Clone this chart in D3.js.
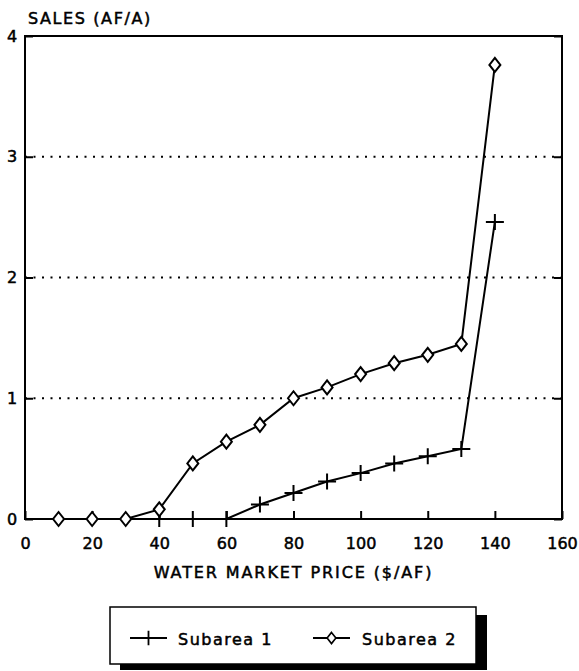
<!DOCTYPE html>
<html><head><meta charset="utf-8">
<script src="https://cdn.jsdelivr.net/npm/d3@7"></script>
<style>body{margin:0;background:#fff}text{font-family:"DejaVu Sans",sans-serif;fill:#000;stroke:#000;stroke-width:0.5px}</style>
</head><body>
<svg id="c" width="579" height="671"></svg>
<script>
const xTicks = [0, 20, 40, 60, 80, 100, 120, 140, 160];
const yTicks = [0, 1, 2, 3, 4];
const gridValues = [1, 2, 3];
const sub1Price = [40, 50, 60, 70, 80, 90, 100, 110, 120, 130, 140];
const sub1Sales = [0, 0, 0, 0.12, 0.215, 0.31, 0.38, 0.46, 0.52, 0.58, 2.46];
const sub2Price = [10, 20, 30, 40, 50, 60, 70, 80, 90, 100, 110, 120, 130, 140];
const sub2Sales = [0, 0, 0, 0.08, 0.46, 0.64, 0.78, 1.0, 1.09, 1.2, 1.29, 1.36, 1.45, 3.76];
const seriesNames = ["Subarea 1", "Subarea 2"];

const svg = d3.select("#c");
const L = 25, R = 562, T = 36, B = 519;
const x = d3.scaleLinear().domain([0, 160]).range([L, R]);
const y = d3.scaleLinear().domain([0, 4]).range([B, T]);

// grid
svg.selectAll(".grid").data(gridValues).enter().append("line")
  .attr("x1", L).attr("x2", R).attr("y1", d => y(d)).attr("y2", d => y(d))
  .attr("stroke", "#000").attr("stroke-width", 2).attr("stroke-dasharray", "2,6.5");

// frame
svg.append("rect").attr("x", L).attr("y", T).attr("width", R - L).attr("height", B - T)
  .attr("fill", "none").attr("stroke", "#000").attr("stroke-width", 2);

// axes
const xAxis = svg.append("g").attr("transform", `translate(0,${B})`)
  .call(d3.axisBottom(x).tickValues(xTicks).tickSize(-8).tickPadding(19).tickFormat(d3.format("d")));
const yAxis = svg.append("g").attr("transform", `translate(${L},0)`)
  .call(d3.axisLeft(y).tickValues(yTicks).tickSize(-8).tickPadding(6).tickFormat(d3.format("d")));
const yAxisR = svg.append("g").attr("transform", `translate(${R},0)`)
  .call(d3.axisRight(y).tickValues(yTicks).tickSize(-8).tickFormat(""));
[xAxis, yAxis, yAxisR].forEach(g => {
  g.select(".domain").remove();
  g.selectAll("line").attr("stroke", "#000").attr("stroke-width", 2);
  g.selectAll("text").style("font-family", '"DejaVu Sans",sans-serif').style("font-size", "16px").attr("fill", "#000");
});
xAxis.selectAll("text").attr("dy", "0.71em");
yAxis.selectAll("text").attr("x", -13).attr("text-anchor", "middle");

// titles
svg.append("text").attr("x", 28).attr("y", 24).style("font-size", "16px").style("letter-spacing", "1.6px").text("SALES (AF/A)");
svg.append("text").attr("x", x(80)).attr("y", 578).attr("text-anchor", "middle").style("font-size", "16px").style("letter-spacing", "1.9px").text("WATER MARKET PRICE ($/AF)");

const line = d3.line().x(d => x(d[0])).y(d => y(d[1]));
const s1 = sub1Price.map((p, i) => [p, sub1Sales[i]]);
const s2 = sub2Price.map((p, i) => [p, sub2Sales[i]]);

svg.append("path").datum(s1).attr("d", line).attr("fill", "none").attr("stroke", "#000").attr("stroke-width", 2);
svg.append("path").datum(s2).attr("d", line).attr("fill", "none").attr("stroke", "#000").attr("stroke-width", 2);

const plusPath = "M-9,0H9M0,-8V8";
const diaPath = "M0,-7L5.5,0L0,7L-5.5,0Z";
svg.selectAll(".p1").data(s1).enter().append("path")
  .attr("transform", d => `translate(${x(d[0])},${y(d[1])})`)
  .attr("d", plusPath).attr("stroke", "#000").attr("stroke-width", 2).attr("fill", "none");
svg.selectAll(".p2").data(s2).enter().append("path")
  .attr("transform", d => `translate(${x(d[0])},${y(d[1])})`)
  .attr("d", diaPath).attr("stroke", "#000").attr("stroke-width", 2).attr("fill", "#fff");

// legend
const lg = svg.append("g");
lg.append("rect").attr("x", 120).attr("y", 615).attr("width", 367).attr("height", 55).attr("fill", "#000");
lg.append("rect").attr("x", 110).attr("y", 607).attr("width", 366).attr("height", 57).attr("fill", "#fff").attr("stroke", "#000").attr("stroke-width", 1.5);
const items = [{sx: 130, tx: 178, m: plusPath}, {sx: 313, tx: 362, m: diaPath}];
items.forEach((it, i) => {
  lg.append("line").attr("x1", it.sx).attr("x2", it.sx + 37).attr("y1", 638).attr("y2", 638).attr("stroke", "#000").attr("stroke-width", 2);
  lg.append("path").attr("transform", `translate(${it.sx + 18.5},638)` + (i === 0 ? " scale(0.9)" : " scale(0.8)"))
    .attr("d", it.m).attr("stroke", "#000").attr("stroke-width", 2).attr("fill", "#fff");
  lg.append("text").attr("x", it.tx).attr("y", 645).style("font-size", "16px").style("letter-spacing", "1.5px").text(seriesNames[i]);
});
</script>
</body></html>
